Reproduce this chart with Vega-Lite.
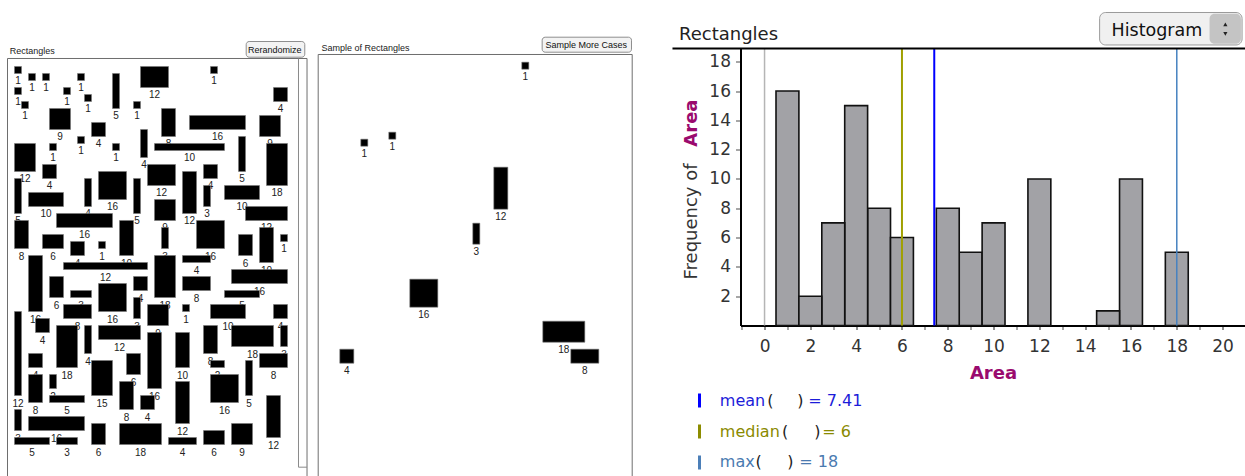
{
 "$schema": "https://vega.github.io/schema/vega-lite/v6.json",
 "padding": {"left": 6.5, "top": 11.5, "right": 0, "bottom": 0},
 "background": "white",
 "bounds": "flush",
 "spacing": 11,
 "config": {"view": {"stroke": null}, "font": "Liberation Sans"},
 "datasets": {
  "rects": [
   {"c0":1,"c1":2,"r0":1,"r1":2,"area":1,"s":0},
   {"c0":3,"c1":4,"r0":2,"r1":3,"area":1,"s":0},
   {"c0":5,"c1":6,"r0":2,"r1":3,"area":1,"s":0},
   {"c0":10,"c1":11,"r0":2,"r1":3,"area":1,"s":0},
   {"c0":15,"c1":16,"r0":2,"r1":7,"area":5,"s":0},
   {"c0":1,"c1":2,"r0":4,"r1":5,"area":1,"s":0},
   {"c0":8,"c1":9,"r0":4,"r1":5,"area":1,"s":0},
   {"c0":11,"c1":12,"r0":5,"r1":6,"area":1,"s":0},
   {"c0":2,"c1":3,"r0":6,"r1":7,"area":1,"s":0},
   {"c0":18,"c1":19,"r0":6,"r1":7,"area":1,"s":0},
   {"c0":6,"c1":9,"r0":7,"r1":10,"area":9,"s":0},
   {"c0":12,"c1":14,"r0":9,"r1":11,"area":4,"s":0},
   {"c0":10,"c1":11,"r0":11,"r1":12,"area":1,"s":1},
   {"c0":6,"c1":7,"r0":12,"r1":13,"area":1,"s":1},
   {"c0":15,"c1":16,"r0":12,"r1":13,"area":1,"s":0},
   {"c0":19,"c1":20,"r0":10,"r1":14,"area":4,"s":0},
   {"c0":1,"c1":4,"r0":12,"r1":16,"area":12,"s":0},
   {"c0":5,"c1":7,"r0":15,"r1":17,"area":4,"s":0},
   {"c0":13,"c1":17,"r0":16,"r1":20,"area":16,"s":0},
   {"c0":1,"c1":2,"r0":17,"r1":22,"area":5,"s":0},
   {"c0":3,"c1":8,"r0":19,"r1":21,"area":10,"s":0},
   {"c0":11,"c1":12,"r0":17,"r1":21,"area":4,"s":0},
   {"c0":18,"c1":19,"r0":17,"r1":22,"area":5,"s":0},
   {"c0":7,"c1":15,"r0":22,"r1":24,"area":16,"s":0},
   {"c0":1,"c1":3,"r0":23,"r1":27,"area":8,"s":0},
   {"c0":5,"c1":8,"r0":25,"r1":27,"area":6,"s":0},
   {"c0":9,"c1":11,"r0":26,"r1":28,"area":4,"s":0},
   {"c0":13,"c1":14,"r0":26,"r1":27,"area":1,"s":0},
   {"c0":16,"c1":18,"r0":23,"r1":28,"area":10,"s":0},
   {"c0":8,"c1":20,"r0":29,"r1":30,"area":12,"s":0},
   {"c0":3,"c1":5,"r0":28,"r1":36,"area":16,"s":0},
   {"c0":19,"c1":23,"r0":1,"r1":4,"area":12,"s":0},
   {"c0":29,"c1":30,"r0":1,"r1":2,"area":1,"s":1},
   {"c0":38,"c1":40,"r0":4,"r1":6,"area":4,"s":0},
   {"c0":22,"c1":24,"r0":7,"r1":11,"area":8,"s":0},
   {"c0":26,"c1":34,"r0":8,"r1":10,"area":16,"s":0},
   {"c0":36,"c1":39,"r0":8,"r1":11,"area":9,"s":0},
   {"c0":21,"c1":31,"r0":12,"r1":13,"area":10,"s":0},
   {"c0":33,"c1":34,"r0":11,"r1":16,"area":5,"s":0},
   {"c0":37,"c1":40,"r0":12,"r1":18,"area":18,"s":0},
   {"c0":20,"c1":24,"r0":15,"r1":18,"area":12,"s":0},
   {"c0":25,"c1":27,"r0":16,"r1":22,"area":12,"s":1},
   {"c0":28,"c1":30,"r0":15,"r1":17,"area":4,"s":0},
   {"c0":28,"c1":29,"r0":18,"r1":21,"area":3,"s":0},
   {"c0":31,"c1":36,"r0":18,"r1":20,"area":10,"s":0},
   {"c0":34,"c1":40,"r0":21,"r1":23,"area":12,"s":0},
   {"c0":21,"c1":24,"r0":20,"r1":23,"area":9,"s":0},
   {"c0":27,"c1":31,"r0":23,"r1":27,"area":16,"s":0},
   {"c0":22,"c1":23,"r0":24,"r1":27,"area":3,"s":1},
   {"c0":33,"c1":35,"r0":25,"r1":28,"area":6,"s":0},
   {"c0":36,"c1":38,"r0":24,"r1":29,"area":10,"s":0},
   {"c0":39,"c1":40,"r0":25,"r1":26,"area":1,"s":0},
   {"c0":25,"c1":29,"r0":28,"r1":29,"area":4,"s":0},
   {"c0":21,"c1":24,"r0":28,"r1":34,"area":18,"s":0},
   {"c0":25,"c1":29,"r0":31,"r1":33,"area":8,"s":0},
   {"c0":32,"c1":40,"r0":30,"r1":32,"area":16,"s":0},
   {"c0":31,"c1":36,"r0":33,"r1":34,"area":5,"s":0},
   {"c0":25,"c1":26,"r0":35,"r1":36,"area":1,"s":0},
   {"c0":29,"c1":34,"r0":35,"r1":37,"area":10,"s":0},
   {"c0":38,"c1":40,"r0":35,"r1":37,"area":4,"s":0},
   {"c0":32,"c1":38,"r0":38,"r1":41,"area":18,"s":1},
   {"c0":39,"c1":40,"r0":38,"r1":41,"area":3,"s":0},
   {"c0":28,"c1":30,"r0":38,"r1":42,"area":8,"s":0},
   {"c0":24,"c1":26,"r0":39,"r1":44,"area":10,"s":0},
   {"c0":29,"c1":31,"r0":43,"r1":44,"area":2,"s":0},
   {"c0":36,"c1":40,"r0":42,"r1":44,"area":8,"s":1},
   {"c0":34,"c1":35,"r0":43,"r1":48,"area":5,"s":0},
   {"c0":29,"c1":33,"r0":45,"r1":49,"area":16,"s":0},
   {"c0":24,"c1":26,"r0":46,"r1":52,"area":12,"s":0},
   {"c0":37,"c1":39,"r0":48,"r1":54,"area":12,"s":0},
   {"c0":23,"c1":27,"r0":54,"r1":55,"area":4,"s":0},
   {"c0":28,"c1":31,"r0":53,"r1":55,"area":6,"s":0},
   {"c0":32,"c1":35,"r0":52,"r1":55,"area":9,"s":0},
   {"c0":6,"c1":8,"r0":31,"r1":34,"area":6,"s":0},
   {"c0":9,"c1":12,"r0":33,"r1":34,"area":3,"s":0},
   {"c0":13,"c1":17,"r0":32,"r1":36,"area":16,"s":1},
   {"c0":18,"c1":20,"r0":31,"r1":33,"area":4,"s":0},
   {"c0":8,"c1":12,"r0":35,"r1":37,"area":8,"s":0},
   {"c0":18,"c1":19,"r0":34,"r1":37,"area":3,"s":0},
   {"c0":20,"c1":23,"r0":35,"r1":38,"area":9,"s":0},
   {"c0":1,"c1":2,"r0":36,"r1":48,"area":12,"s":0},
   {"c0":4,"c1":6,"r0":37,"r1":39,"area":4,"s":0},
   {"c0":7,"c1":10,"r0":38,"r1":44,"area":18,"s":0},
   {"c0":11,"c1":12,"r0":38,"r1":42,"area":4,"s":0},
   {"c0":13,"c1":19,"r0":38,"r1":40,"area":12,"s":0},
   {"c0":20,"c1":22,"r0":39,"r1":47,"area":16,"s":0},
   {"c0":3,"c1":5,"r0":42,"r1":44,"area":4,"s":1},
   {"c0":17,"c1":19,"r0":42,"r1":45,"area":6,"s":0},
   {"c0":6,"c1":7,"r0":45,"r1":47,"area":2,"s":0},
   {"c0":3,"c1":5,"r0":45,"r1":49,"area":8,"s":0},
   {"c0":12,"c1":15,"r0":43,"r1":48,"area":15,"s":0},
   {"c0":16,"c1":18,"r0":46,"r1":50,"area":8,"s":0},
   {"c0":6,"c1":11,"r0":48,"r1":49,"area":5,"s":0},
   {"c0":19,"c1":21,"r0":48,"r1":50,"area":4,"s":0},
   {"c0":1,"c1":2,"r0":50,"r1":53,"area":3,"s":0},
   {"c0":3,"c1":11,"r0":51,"r1":53,"area":16,"s":0},
   {"c0":1,"c1":6,"r0":54,"r1":55,"area":5,"s":0},
   {"c0":7,"c1":10,"r0":54,"r1":55,"area":3,"s":0},
   {"c0":12,"c1":14,"r0":52,"r1":55,"area":6,"s":0},
   {"c0":16,"c1":22,"r0":52,"r1":55,"area":18,"s":0}
  ]
 },
 "hconcat": [
  {
   "width": 300, "height": 428,
   "data": {"name": "rects"},
   "layer": [
    {"data": {"values": [{}]},
     "mark": {"type": "rect", "fill": null, "stroke": "#6e6e6e", "strokeWidth": 1},
     "encoding": {
      "x": {"datum": 0, "type": "quantitative", "scale": {"domain": [0, 42.857], "nice": false, "zero": false}, "axis": null},
      "x2": {"datum": 42.79},
      "y": {"datum": -0.143, "type": "quantitative", "scale": {"domain": [-1.5714, 59.5714], "reverse": true, "nice": false, "zero": false}, "axis": null},
      "y2": {"datum": 62}}},
    {"data": {"values": [{}]},
     "mark": {"type": "rule", "color": "#8a8a8a", "strokeWidth": 1},
     "encoding": {"x": {"datum": 41.571, "axis": null}, "y": {"datum": -0.143, "axis": null}, "y2": {"datum": 58.24}}},
    {"data": {"values": [{}]},
     "mark": {"type": "rule", "color": "#8a8a8a", "strokeWidth": 1},
     "encoding": {"x": {"datum": 41.571, "axis": null}, "x2": {"datum": 42.79}, "y": {"datum": 58.24, "axis": null}}},
    {"transform": [
      {"fold": ["c0", "c1"], "as": ["k", "v"]},
      {"aggregate": [{"op": "mean", "field": "v", "as": "cm"}], "groupby": ["c0", "c1", "r1", "area"]}],
     "mark": {"type": "text", "fontSize": 10, "fill": "#222222", "align": "center", "baseline": "alphabetic", "dy": 11},
     "encoding": {"x": {"field": "cm", "type": "quantitative", "axis": null}, "y": {"field": "r1", "type": "quantitative", "axis": null}, "text": {"field": "area"}}},
    {"mark": {"type": "rect", "fill": "#000000", "stroke": "#777777", "strokeWidth": 0.6},
     "encoding": {"x": {"field": "c0", "type": "quantitative", "axis": null}, "x2": {"field": "c1"}, "y": {"field": "r0", "type": "quantitative", "axis": null}, "y2": {"field": "r1"}}},
    {"data": {"values": [{}]},
     "mark": {"type": "text", "fontSize": 9, "fill": "#222222", "align": "left", "baseline": "alphabetic"},
     "encoding": {"x": {"datum": 0.33, "axis": null}, "y": {"datum": -0.757, "axis": null}, "text": {"value": "Rectangles"}}},
    {"data": {"values": [{}]},
     "mark": {"type": "rect", "fill": "#f3f3f3", "stroke": "#8e8e8e", "strokeWidth": 1, "cornerRadius": 3},
     "encoding": {"x": {"datum": 34.1, "axis": null}, "x2": {"datum": 42.47}, "y": {"datum": -2.571, "axis": null}, "y2": {"datum": -0.329}}},
    {"data": {"values": [{}]},
     "mark": {"type": "text", "fontSize": 9, "fill": "#111111", "align": "center", "baseline": "alphabetic"},
     "encoding": {"x": {"datum": 38.17, "axis": null}, "y": {"datum": -0.9, "axis": null}, "text": {"value": "Rerandomize"}}}
   ]
  },
  {
   "width": 411, "height": 428,
   "data": {"name": "rects"},
   "layer": [
    {"data": {"values": [{}]},
     "mark": {"type": "rect", "fill": null, "stroke": "#6e6e6e", "strokeWidth": 1},
     "encoding": {
      "x": {"datum": -0.0857, "type": "quantitative", "scale": {"domain": [-0.04286, 58.6714], "nice": false, "zero": false}, "axis": null},
      "x2": {"datum": 44.771},
      "y": {"datum": -0.1, "type": "quantitative", "scale": {"domain": [-0.9571, 60.1857], "reverse": true, "nice": false, "zero": false}, "axis": null},
      "y2": {"datum": 62}}},
    {"transform": [
      {"filter": "datum.s == 1"},
      {"fold": ["c0", "c1"], "as": ["k", "v"]},
      {"aggregate": [{"op": "mean", "field": "v", "as": "cm"}], "groupby": ["c0", "c1", "r1", "area"]}],
     "mark": {"type": "text", "fontSize": 10, "fill": "#222222", "align": "center", "baseline": "alphabetic", "dy": 11},
     "encoding": {"x": {"field": "cm", "type": "quantitative", "axis": null}, "y": {"field": "r1", "type": "quantitative", "axis": null}, "text": {"field": "area"}}},
    {"transform": [{"filter": "datum.s == 1"}],
     "mark": {"type": "rect", "fill": "#000000", "stroke": "#777777", "strokeWidth": 0.6},
     "encoding": {"x": {"field": "c0", "type": "quantitative", "axis": null}, "x2": {"field": "c1"}, "y": {"field": "r0", "type": "quantitative", "axis": null}, "y2": {"field": "r1"}}},
    {"data": {"values": [{}]},
     "mark": {"type": "text", "fontSize": 9, "fill": "#222222", "align": "left", "baseline": "alphabetic"},
     "encoding": {"x": {"datum": 0.386, "axis": null}, "y": {"datum": -0.671, "axis": null}, "text": {"value": "Sample of Rectangles"}}},
    {"data": {"values": [{}]},
     "mark": {"type": "rect", "fill": "#f3f3f3", "stroke": "#8e8e8e", "strokeWidth": 1, "cornerRadius": 3},
     "encoding": {"x": {"datum": 31.91, "axis": null}, "x2": {"datum": 44.67}, "y": {"datum": -2.571, "axis": null}, "y2": {"datum": -0.429}}},
    {"data": {"values": [{}]},
     "mark": {"type": "text", "fontSize": 9, "fill": "#111111", "align": "center", "baseline": "alphabetic"},
     "encoding": {"x": {"datum": 38.21, "axis": null}, "y": {"datum": -1.0, "axis": null}, "text": {"value": "Sample More Cases"}}}
   ]
  },
  {
   "width": 505, "height": 277,
   "data": {"name": "rects"},
   "resolve": {"axis": {"x": "independent", "y": "independent"}},
   "layer": [
    {"data": {"values": [{}]},
     "mark": {"type": "rule", "color": "#b5b5b5", "strokeWidth": 1.5},
     "encoding": {
      "x": {"datum": 0, "type": "quantitative",
            "scale": {"domain": [-1.05, 21], "nice": false, "zero": false, "padding": 0},
            "axis": {"values": [-1,0,1,2,3,4,5,6,7,8,9,10,11,12,13,14,15,16,17,18,19,20,21],
                     "labels": false, "domain": false, "ticks": true, "title": null, "grid": false, "orient": "bottom",
                     "tickSize": 4, "tickColor": "#888888", "tickWidth": 1.5}},
      "y": {"datum": 0, "type": "quantitative", "scale": {"domain": [0, 18.9], "nice": false, "zero": false, "padding": 0}, "axis": null},
      "y2": {"datum": 18.9}}},
    {"mark": {"type": "bar", "size": 22.9, "fill": "#a2a2a6", "stroke": "#111111", "strokeWidth": 1.6},
     "encoding": {
      "x": {"field": "area", "type": "quantitative",
            "axis": {"values": [0,2,4,6,8,10,12,14,16,18,20],
                     "title": "Area", "titleColor": "#9a0a6e", "titleFont": "DejaVu Sans", "titleFontSize": 18, "titleFontWeight": "bold", "titlePadding": 10,
                     "labelFont": "DejaVu Sans", "labelFontSize": 17, "labelColor": "#333333", "labelPadding": 9, "labelFlush": false, "labelOverlap": false, "labelBound": false,
                     "tickSize": 4, "tickColor": "#888888", "tickWidth": 1.5, "domainColor": "#000000", "domainWidth": 2, "grid": false, "orient": "bottom"}},
      "y": {"aggregate": "count", "type": "quantitative",
            "axis": {"values": [2,4,6,8,10,12,14,16,18], "title": null,
                     "labelFont": "DejaVu Sans", "labelFontSize": 17, "labelColor": "#333333", "labelPadding": 5, "labelOverlap": false, "labelBound": false, "labelFlush": false,
                     "tickSize": 5, "tickColor": "#888888", "tickWidth": 1.5, "domainColor": "#000000", "domainWidth": 2, "grid": false, "orient": "left"}}}},
    {"transform": [{"aggregate": [{"op": "median", "field": "area", "as": "med"}]}],
     "mark": {"type": "rule", "color": "#a0a000", "strokeWidth": 2},
     "encoding": {"x": {"field": "med", "type": "quantitative", "axis": null}, "y": {"datum": 0, "axis": null}, "y2": {"datum": 18.9}}},
    {"transform": [{"aggregate": [{"op": "mean", "field": "area", "as": "avg"}]}],
     "mark": {"type": "rule", "color": "#0000ff", "strokeWidth": 2},
     "encoding": {"x": {"field": "avg", "type": "quantitative", "axis": null}, "y": {"datum": 0, "axis": null}, "y2": {"datum": 18.9}}},
    {"transform": [{"aggregate": [{"op": "max", "field": "area", "as": "mx"}]}],
     "mark": {"type": "rule", "color": "#4682c0", "strokeWidth": 1.5},
     "encoding": {"x": {"field": "mx", "type": "quantitative", "axis": null}, "y": {"datum": 0, "axis": null}, "y2": {"datum": 18.9}}},
    {"data": {"values": [{}]},
     "mark": {"type": "rule", "color": "#000000", "strokeWidth": 2},
     "encoding": {"x": {"datum": -4.02, "axis": null}, "x2": {"datum": 21}, "y": {"datum": 18.9, "axis": null}}},
    {"data": {"values": [{}]},
     "mark": {"type": "text", "font": "DejaVu Sans", "fontSize": 18, "fill": "#222222", "align": "left", "baseline": "alphabetic"},
     "encoding": {"x": {"datum": -3.735, "axis": null}, "y": {"datum": 19.446, "axis": null}, "text": {"value": "Rectangles"}}},
    {"data": {"values": [{}]},
     "mark": {"type": "text", "font": "DejaVu Sans", "fontSize": 18, "fill": "#333333", "align": "left", "baseline": "alphabetic", "angle": 270},
     "encoding": {"x": {"datum": -2.928, "axis": null}, "y": {"datum": 3.139, "axis": null}, "text": {"value": "Frequency of"}}},
    {"data": {"values": [{}]},
     "mark": {"type": "text", "font": "DejaVu Sans", "fontSize": 18, "fontWeight": "bold", "fill": "#9a0a6e", "align": "right", "baseline": "alphabetic", "angle": 270},
     "encoding": {"x": {"datum": -2.928, "axis": null}, "y": {"datum": 15.42, "axis": null}, "text": {"value": "Area"}}},
    {"data": {"values": [{}]},
     "mark": {"type": "rect", "fill": "#f0f0f0", "stroke": "#9a9a9a", "strokeWidth": 1, "cornerRadius": 6},
     "encoding": {"x": {"datum": 14.63, "axis": null}, "x2": {"datum": 20.85}, "y": {"datum": 21.357, "axis": null}, "y2": {"datum": 19.14}}},
    {"data": {"values": [{}]},
     "mark": {"type": "rect", "fill": "#c4c4c4", "cornerRadius": 5},
     "encoding": {"x": {"datum": 19.43, "axis": null}, "x2": {"datum": 20.8}, "y": {"datum": 21.27, "axis": null}, "y2": {"datum": 19.22}}},
    {"data": {"values": [{}]},
     "mark": {"type": "text", "font": "DejaVu Sans", "fontSize": 17.5, "fill": "#111111", "align": "left", "baseline": "alphabetic"},
     "encoding": {"x": {"datum": 15.15, "axis": null}, "y": {"datum": 19.72, "axis": null}, "text": {"value": "Histogram"}}},
    {"data": {"values": [{}]},
     "mark": {"type": "point", "shape": "triangle-up", "filled": true, "color": "#222222", "size": 18, "opacity": 1},
     "encoding": {"x": {"datum": 20.12, "axis": null}, "y": {"datum": 20.55, "axis": null}}},
    {"data": {"values": [{}]},
     "mark": {"type": "point", "shape": "triangle-down", "filled": true, "color": "#222222", "size": 18, "opacity": 1},
     "encoding": {"x": {"datum": 20.12, "axis": null}, "y": {"datum": 19.9, "axis": null}}},
    {"data": {"values": [{}]},
     "mark": {"type": "rule", "color": "#0000ff", "strokeWidth": 3},
     "encoding": {"x": {"datum": -2.84, "axis": null}, "y": {"datum": -4.64, "axis": null}, "y2": {"datum": -5.595}}},
    {"data": {"values": [{}]},
     "mark": {"type": "rule", "color": "#8c8c00", "strokeWidth": 3},
     "encoding": {"x": {"datum": -2.84, "axis": null}, "y": {"datum": -6.755, "axis": null}, "y2": {"datum": -7.71}}},
    {"data": {"values": [{}]},
     "mark": {"type": "rule", "color": "#4c7fb8", "strokeWidth": 3},
     "encoding": {"x": {"datum": -2.84, "axis": null}, "y": {"datum": -8.87, "axis": null}, "y2": {"datum": -9.825}}},
    {"data": {"values": [{}]},
     "mark": {"type": "text", "font": "DejaVu Sans", "fontSize": 16, "fill": "#1c1cd9", "align": "left", "baseline": "alphabetic"},
     "encoding": {"x": {"datum": -1.954, "axis": null}, "y": {"datum": -5.459, "axis": null}, "text": {"value": "mean"}}},
    {"data": {"values": [{}]},
     "mark": {"type": "text", "font": "DejaVu Sans", "fontSize": 16, "fill": "#222222", "align": "left", "baseline": "alphabetic"},
     "encoding": {"x": {"datum": 0.12, "axis": null}, "y": {"datum": -5.459, "axis": null}, "text": {"value": "("}}},
    {"data": {"values": [{}]},
     "mark": {"type": "text", "font": "DejaVu Sans", "fontSize": 16, "fill": "#222222", "align": "left", "baseline": "alphabetic"},
     "encoding": {"x": {"datum": 1.43, "axis": null}, "y": {"datum": -5.459, "axis": null}, "text": {"value": ")"}}},
    {"data": {"values": [{}]},
     "mark": {"type": "text", "font": "DejaVu Sans", "fontSize": 16, "fill": "#1c1cd9", "align": "left", "baseline": "alphabetic"},
     "encoding": {"x": {"datum": 1.91, "axis": null}, "y": {"datum": -5.459, "axis": null}, "text": {"value": "= 7.41"}}},
    {"data": {"values": [{}]},
     "mark": {"type": "text", "font": "DejaVu Sans", "fontSize": 16, "fill": "#8a8a00", "align": "left", "baseline": "alphabetic"},
     "encoding": {"x": {"datum": -1.954, "axis": null}, "y": {"datum": -7.574, "axis": null}, "text": {"value": "median"}}},
    {"data": {"values": [{}]},
     "mark": {"type": "text", "font": "DejaVu Sans", "fontSize": 16, "fill": "#222222", "align": "left", "baseline": "alphabetic"},
     "encoding": {"x": {"datum": 0.76, "axis": null}, "y": {"datum": -7.574, "axis": null}, "text": {"value": "("}}},
    {"data": {"values": [{}]},
     "mark": {"type": "text", "font": "DejaVu Sans", "fontSize": 16, "fill": "#222222", "align": "left", "baseline": "alphabetic"},
     "encoding": {"x": {"datum": 2.168, "axis": null}, "y": {"datum": -7.574, "axis": null}, "text": {"value": ")"}}},
    {"data": {"values": [{}]},
     "mark": {"type": "text", "font": "DejaVu Sans", "fontSize": 16, "fill": "#8a8a00", "align": "left", "baseline": "alphabetic"},
     "encoding": {"x": {"datum": 2.522, "axis": null}, "y": {"datum": -7.574, "axis": null}, "text": {"value": "= 6"}}},
    {"data": {"values": [{}]},
     "mark": {"type": "text", "font": "DejaVu Sans", "fontSize": 16, "fill": "#4a7ab0", "align": "left", "baseline": "alphabetic"},
     "encoding": {"x": {"datum": -1.954, "axis": null}, "y": {"datum": -9.621, "axis": null}, "text": {"value": "max"}}},
    {"data": {"values": [{}]},
     "mark": {"type": "text", "font": "DejaVu Sans", "fontSize": 16, "fill": "#222222", "align": "left", "baseline": "alphabetic"},
     "encoding": {"x": {"datum": -0.39, "axis": null}, "y": {"datum": -9.621, "axis": null}, "text": {"value": "("}}},
    {"data": {"values": [{}]},
     "mark": {"type": "text", "font": "DejaVu Sans", "fontSize": 16, "fill": "#222222", "align": "left", "baseline": "alphabetic"},
     "encoding": {"x": {"datum": 0.989, "axis": null}, "y": {"datum": -9.621, "axis": null}, "text": {"value": ")"}}},
    {"data": {"values": [{}]},
     "mark": {"type": "text", "font": "DejaVu Sans", "fontSize": 16, "fill": "#4a7ab0", "align": "left", "baseline": "alphabetic"},
     "encoding": {"x": {"datum": 1.517, "axis": null}, "y": {"datum": -9.621, "axis": null}, "text": {"value": "= 18"}}}
   ]
  }
 ]
}
